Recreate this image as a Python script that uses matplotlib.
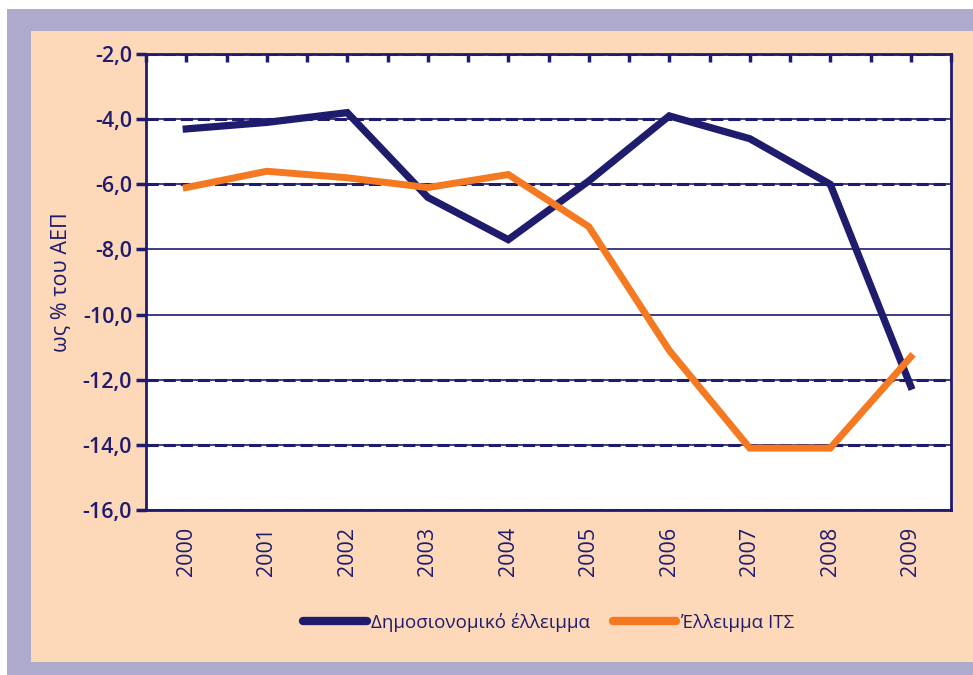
import numpy as np
import matplotlib
matplotlib.use("Agg")
import matplotlib.pyplot as plt
from matplotlib.patches import Rectangle

plt.rcParams['font.family'] = ['Open Sans', 'DejaVu Sans']

years = ['2000', '2001', '2002', '2003', '2004', '2005', '2006', '2007', '2008', '2009']
fiscal = [-4.3, -4.1, -3.8, -6.4, -7.7, -5.9, -3.9, -4.6, -6.0, -12.2]
current = [-6.1, -5.6, -5.8, -6.1, -5.7, -7.3, -11.1, -14.1, -14.1, -11.3]
yticks = [-16, -14, -12, -10, -8, -6, -4, -2]

navy = '#1f1b6d'
orange = '#f47920'
peach = '#fdd8b9'
lav = '#aeaacb'

fig = plt.figure(figsize=(9.73, 6.75), dpi=100, facecolor='white')
fig.patches.append(Rectangle((7/973, 0), 1, (675-9)/675, transform=fig.transFigure,
                             facecolor=lav, edgecolor='none', zorder=-2))
fig.patches.append(Rectangle((31/973, 13/675), 1, (662-31)/675, transform=fig.transFigure,
                             facecolor=peach, edgecolor='none', zorder=-1))

ax = fig.add_axes([146/973, 165/675, 805/973, 456/675])
ax.set_facecolor('white')
x = np.arange(len(years))

# gridlines (scan shows some dashed, some thin)
for v in yticks:
    if v in (-8, -10):
        ax.axhline(v, color=navy, lw=1.2, zorder=1)
    else:
        ax.axhline(v, color=navy, lw=1.2, zorder=1)
        ax.axhline(v, color=navy, lw=2.2, ls=(0, (4, 1.6)), zorder=1)

ax.plot(x, fiscal, color=navy, lw=5.2, solid_joinstyle='miter', label='Δημοσιονομικό έλλειμμα', zorder=3)
ax.plot(x, current, color=orange, lw=5, solid_joinstyle='miter', label='Έλλειμμα ΙΤΣ', zorder=3)

ax.set_xlim(-0.5, len(years) - 0.5)
ax.set_ylim(-16, -2)
ax.set_yticks(yticks)
ax.set_yticklabels([f'{v:.1f}'.replace('.', ',') for v in yticks], color=navy, fontsize=15.5,
                   fontweight='semibold')
ax.set_xticks(x)
ax.set_xticklabels(years, rotation=90, color=navy, fontsize=15.5)
ax.set_xticks(np.arange(-0.5, len(years)), minor=True)
ax.tick_params(axis='x', which='both', bottom=False, top=True, direction='in', length=6, width=2.5,
               color=navy, pad=12)
ax.tick_params(axis='y', direction='out', length=7, width=2.5, color=navy, pad=3)

for s in ax.spines.values():
    s.set_color(navy)
    s.set_linewidth(2)

ax.set_ylabel('ως % του ΑΕΠ', color=navy, fontsize=15.5, labelpad=8)

leg = ax.legend(loc='center', bbox_to_anchor=(548.5/973, 53/675), bbox_transform=fig.transFigure,
                ncol=2, frameon=False, fontsize=13.5, handlelength=3.4, columnspacing=1.2,
                handletextpad=0.25)
for t in leg.get_texts():
    t.set_color(navy)
for h in leg.get_lines():
    h.set_linewidth(6)
    h.set_solid_capstyle('round')

fig.savefig('out.png', dpi=100, facecolor=fig.get_facecolor())
